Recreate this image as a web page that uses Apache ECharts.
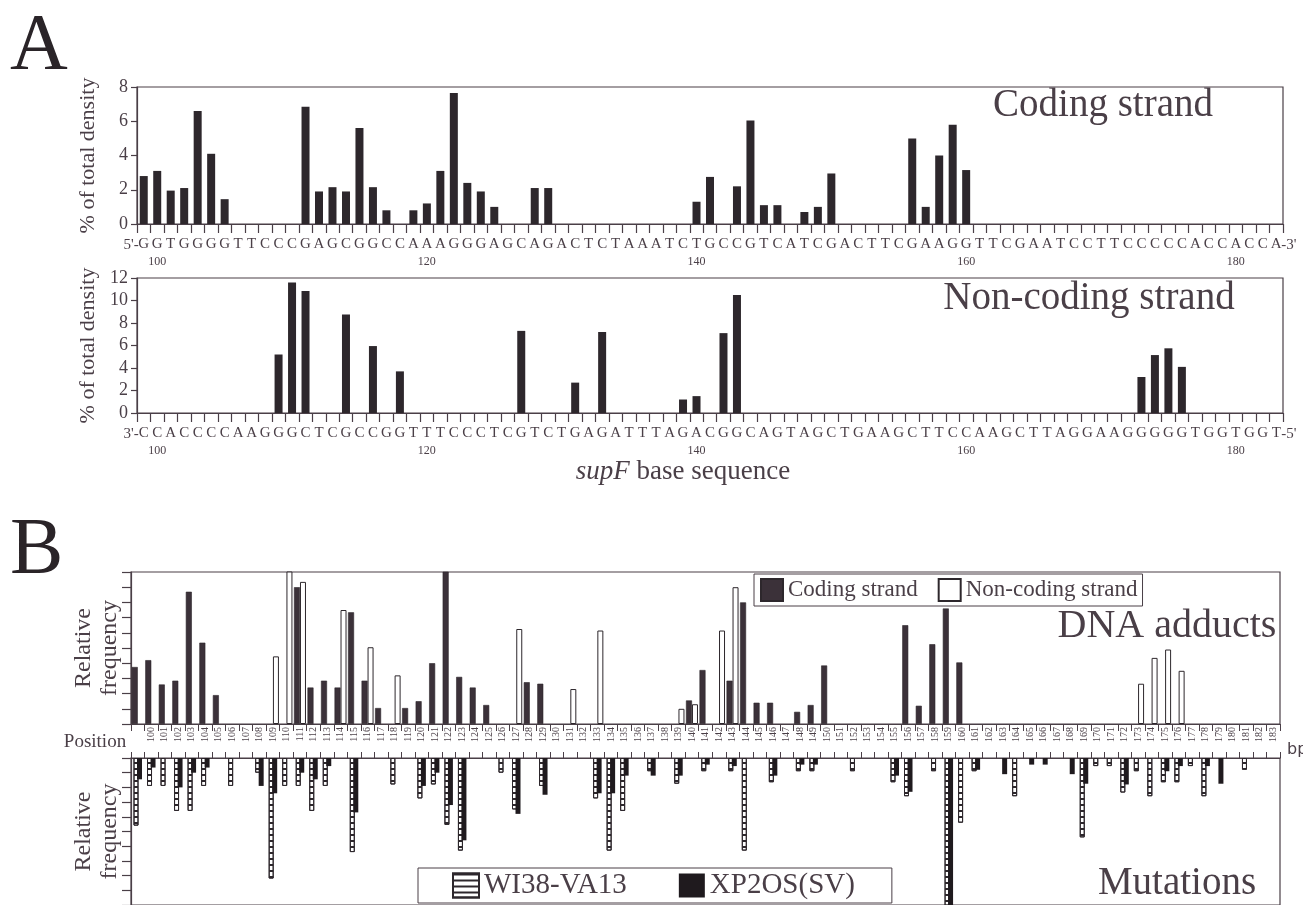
<!DOCTYPE html>
<html><head><meta charset="utf-8">
<script src="https://cdn.jsdelivr.net/npm/echarts/dist/echarts.min.js"></script>
<style>html,body{margin:0;padding:0;background:#fff}#c{width:1303px;height:905px}</style>
</head><body><div id="c"></div>
<script>
// ---------- DATA ----------
const positions = ['99','100','101','102','103','104','105','106','107','108','109','110','111','112','113','114','115','116','117','118','119','120','121','122','123','124','125','126','127','128','129','130','131','132','133','134','135','136','137','138','139','140','141','142','143','144','145','146','147','148','149','150','151','152','153','154','155','156','157','158','159','160','161','162','163','164','165','166','167','168','169','170','171','172','173','174','175','176','177','178','179','180','181','182','183'];
const codingSeq = 'GGTGGGGTTCCCGAGCGGCCAAAGGGAGCAGACTCTAAATCTGCCGTCATCGACTTCGAAGGTTCGAATCCTTCCCCCACCACCA'.split('');
const nonCodingSeq = 'CCACCCCAAGGGCTCGCCGGTTTCCCTCGTCTGAGATTTAGACGGCAGTAGCTGAAGCTTCCAAGCTTAGGAAGGGGGTGGTGGT'.split('');
const seqNumberTicks = ['100','120','140','160','180'];
const adductTickLabels = ['','100','101','102','103','104','105','106','107','108','109','110','111','112','113','114','115','116','117','118','119','120','121','122','123','124','125','126','127','128','129','130','131','132','133','134','135','136','137','138','139','140','141','142','143','144','145','146','147','148','149','150','151','152','153','154','155','156','157','158','159','160','161','162','163','164','165','166','167','168','169','170','171','172','173','174','175','176','177','178','179','180','181','182','183'];

// Panel A: % of total density
const codingDensity = [[99,2.8],[100,3.1],[101,1.95],[102,2.1],[103,6.6],[104,4.1],[105,1.45],[111,6.85],[112,1.9],[113,2.15],[114,1.9],[115,5.6],[116,2.15],[117,0.8],[119,0.8],[120,1.2],[121,3.1],[122,7.65],[123,2.4],[124,1.9],[125,1.0],[128,2.1],[129,2.1],[140,1.3],[141,2.75],[143,2.2],[144,6.05],[145,1.1],[146,1.1],[148,0.7],[149,1.0],[150,2.95],[156,5.0],[157,1.0],[158,4.0],[159,5.8],[160,3.15]];
const nonCodingDensity = [[109,5.2],[110,11.6],[111,10.85],[114,8.75],[116,5.95],[118,3.7],[127,7.3],[131,2.7],[133,7.2],[139,1.2],[140,1.5],[142,7.1],[143,10.5],[173,3.2],[174,5.15],[175,5.75],[176,4.1]];

// Panel B: DNA adducts (relative frequency)
const adductCoding = [[99,3.75],[100,4.2],[101,2.6],[102,2.85],[103,8.7],[104,5.35],[105,1.9],[111,9.0],[112,2.4],[113,2.85],[114,2.4],[115,7.35],[116,2.85],[117,1.05],[119,1.05],[120,1.5],[121,4.0],[122,10.8],[123,3.1],[124,2.4],[125,1.25],[128,2.75],[129,2.65],[140,1.55],[141,3.55],[143,2.85],[144,8.0],[145,1.4],[146,1.4],[148,0.8],[149,1.25],[150,3.85],[156,6.5],[157,1.2],[158,5.25],[159,7.6],[160,4.05]];
const adductNonCoding = [[109,4.45],[110,10.8],[111,9.35],[114,7.5],[116,5.05],[118,3.2],[127,6.25],[131,2.3],[133,6.15],[139,1.0],[140,1.3],[142,6.15],[143,9.0],[173,2.65],[174,4.35],[175,4.9],[176,3.5]];

// Panel B: Mutations (relative frequency)
const mutWI38 = [[99,4.6],[100,1.9],[101,1.9],[102,3.6],[103,3.6],[104,1.9],[106,1.9],[108,1.0],[109,8.2],[110,1.9],[111,1.9],[112,3.6],[113,1.9],[115,6.4],[118,1.8],[120,2.75],[121,1.8],[122,4.55],[123,6.3],[126,1.0],[127,3.5],[129,1.9],[133,2.75],[134,6.3],[135,3.6],[137,0.9],[139,1.75],[141,0.9],[143,0.9],[144,6.3],[146,1.65],[148,0.9],[149,0.9],[152,0.9],[155,1.65],[156,2.6],[158,0.9],[159,12],[160,4.4],[161,0.9],[164,2.6],[169,5.4],[170,0.55],[171,0.55],[172,2.35],[173,0.9],[174,2.6],[175,1.65],[176,1.65],[177,0.55],[178,2.6],[181,0.8]];
const mutXP2OS = [[99,1.45],[100,0.65],[102,2.0],[103,1.0],[104,0.65],[108,1.9],[109,2.4],[111,1.0],[112,1.45],[113,0.55],[115,3.7],[120,1.9],[121,1.0],[122,3.2],[123,5.6],[127,3.8],[129,2.5],[133,2.4],[134,2.4],[135,1.2],[137,1.2],[139,1.2],[141,0.45],[143,0.55],[146,1.2],[148,0.45],[149,0.45],[155,1.2],[156,2.3],[159,12],[161,0.8],[163,1.1],[165,0.45],[166,0.45],[168,1.1],[169,1.75],[172,1.8],[175,0.9],[176,0.55],[178,0.55],[179,1.75]];

// ---------- CHART ----------
const serif = "'Liberation Serif','Times New Roman',serif";
const ink = '#4a3f47';
const barInk = '#2d272c';
function fill(pairs){ const m = {}; pairs.forEach(p => { m[String(p[0])] = p[1]; }); return positions.map(p => (p in m) ? m[p] : '-'); }

const chart = echarts.init(document.getElementById('c'), null, {renderer:'canvas'});
const gridStyle = {show:true, borderColor:ink, borderWidth:1.2, backgroundColor:'transparent'};
const axisLine = {show:true, lineStyle:{color:ink, width:1.2}};

function seqAxis(gi, seq){
  return {gridIndex:gi, type:'category', data:positions, boundaryGap:true,
    axisLine:axisLine, axisTick:{show:true, length:9, interval:0, lineStyle:{color:ink, width:1.2}},
    axisLabel:{interval:0, margin:11,
      formatter:(v,i)=> '{a|'+seq[i]+'}\n{n|'+(seqNumberTicks.indexOf(v)>=0 ? v : ' ')+'}',
      rich:{a:{fontFamily:serif, fontSize:15, color:ink, lineHeight:19}, n:{fontFamily:serif, fontSize:12, color:ink, lineHeight:16}}},
    splitLine:{show:false}};
}
function densityY(gi, max){
  return {gridIndex:gi, type:'value', min:0, max:max, interval:2,
    axisLine:axisLine, axisTick:{show:true, length:6, lineStyle:{color:ink, width:1.2}},
    axisLabel:{fontFamily:serif, fontSize:18, color:ink, margin:9},
    splitLine:{show:false},
    name:'% of total density', nameLocation:'middle', nameRotate:90, nameGap:38,
    nameTextStyle:{fontFamily:serif, fontSize:22, color:ink}};
}
function relY(gi, inverse){
  return {gridIndex:gi, type:'value', min:0, max:10, interval:1, inverse:inverse,
    axisLine:axisLine, axisTick:{show:true, length:9, lineStyle:{color:ink, width:1.2}},
    axisLabel:{show:false}, splitLine:{show:false},
    name:'Relative\nfrequency', nameLocation:'middle', nameRotate:90, nameGap:8,
    nameTextStyle:{fontFamily:serif, fontSize:24, color:ink, lineHeight:26}};
}

const option = {
  animation:false,
  backgroundColor:'#fff',
  grid:[
    Object.assign({left:137, right:20, top:87, height:137}, gridStyle),
    Object.assign({left:137, right:20, top:278, height:135}, gridStyle),
    Object.assign({left:131, right:23, top:572, height:152}, gridStyle),
    Object.assign({left:131, right:23, top:758, height:152}, gridStyle)
  ],
  xAxis:[
    seqAxis(0, codingSeq),
    seqAxis(1, nonCodingSeq),
    {gridIndex:2, type:'category', data:positions, axisLine:axisLine,
     axisTick:{show:true, length:7, interval:0, lineStyle:{color:ink, width:1}},
     axisLabel:{interval:0, rotate:90, margin:3, fontFamily:serif, fontSize:10, color:ink,
       formatter:(v,i)=>adductTickLabels[i]}, splitLine:{show:false}},
    {gridIndex:3, type:'category', data:positions, position:'top', axisLine:axisLine,
     axisTick:{show:true, length:6, interval:0, lineStyle:{color:ink, width:1}},
     axisLabel:{show:false}, splitLine:{show:false}}
  ],
  yAxis:[ densityY(0, 8), densityY(1, 12), relY(2, false), relY(3, true) ],
  legend:[
    {data:['Coding strand','Non-coding strand'], left:754, top:574, orient:'horizontal',
     itemWidth:22, itemHeight:22, itemGap:20, padding:[4,5,4,6],
     borderColor:ink, borderWidth:1, backgroundColor:'#fff', icon:'rect', selectedMode:false,
     textStyle:{fontFamily:serif, fontSize:23, color:ink}},
    {data:['WI38-VA13','XP2OS(SV)'], left:418, top:868, orient:'horizontal',
     itemWidth:26, itemHeight:24, itemGap:52, padding:[3,37,3,34],
     borderColor:ink, borderWidth:1, backgroundColor:'#fff', icon:'rect', selectedMode:false,
     textStyle:{fontFamily:serif, fontSize:29, color:ink}}
  ],
  series:[
    {name:'Coding density', type:'bar', xAxisIndex:0, yAxisIndex:0, barWidth:8, data:fill(codingDensity), itemStyle:{color:barInk}},
    {name:'Non-coding density', type:'bar', xAxisIndex:1, yAxisIndex:1, barWidth:8, data:fill(nonCodingDensity), itemStyle:{color:barInk}},
    {name:'Coding strand', type:'bar', xAxisIndex:2, yAxisIndex:2, barWidth:6, data:fill(adductCoding),
     itemStyle:{color:'#3b3139', borderColor:barInk, borderWidth:0.6}},
    {name:'Non-coding strand', type:'bar', xAxisIndex:2, yAxisIndex:2, barWidth:6, barGap:'0%', data:fill(adductNonCoding),
     itemStyle:{color:'#fff', borderColor:barInk, borderWidth:1}},
    {name:'WI38-VA13', type:'bar', xAxisIndex:3, yAxisIndex:3, barWidth:5, data:fill(mutWI38),
     itemStyle:{color:'#fff', borderColor:barInk, borderWidth:1,
       decal:{symbol:'rect', symbolSize:1, dashArrayX:[1,0], dashArrayY:[1.2,3.3], color:barInk, rotation:0}}},
    {name:'XP2OS(SV)', type:'bar', xAxisIndex:3, yAxisIndex:3, barWidth:5, barGap:'-30%', data:fill(mutXP2OS),
     itemStyle:{color:'#1f1a1e'}}
  ],
  graphic:[
    {type:'text', left:10, top:8, style:{text:'A', font:"80px 'Liberation Serif'", fill:'#2a2428'}},
    {type:'text', left:10, top:512, style:{text:'B', font:"80px 'Liberation Serif'", fill:'#2a2428'}},
    {type:'text', x:1103, y:106, style:{text:'Coding strand', font:"39px 'Liberation Serif'", fill:ink, textAlign:'center', textVerticalAlign:'middle'}},
    {type:'text', x:1089, y:299, style:{text:'Non-coding strand', font:"39px 'Liberation Serif'", fill:ink, textAlign:'center', textVerticalAlign:'middle'}},
    {type:'text', x:1167, y:626, style:{text:'DNA adducts', font:"40px 'Liberation Serif'", fill:ink, textAlign:'center', textVerticalAlign:'middle'}},
    {type:'text', x:1177, y:884, style:{text:'Mutations', font:"39px 'Liberation Serif'", fill:ink, textAlign:'center', textVerticalAlign:'middle'}},
    {type:'text', x:683, y:472, style:{rich:{i:{fontFamily:serif, fontStyle:'italic', fontSize:27, fill:ink}, r:{fontFamily:serif, fontSize:27, fill:ink}},
      text:'{i|supF}{r| base sequence}', textAlign:'center', textVerticalAlign:'middle'}},
    {type:'text', x:95, y:742, style:{text:'Position', font:"19px 'Liberation Serif'", fill:ink, textAlign:'center', textVerticalAlign:'middle'}},
    {type:'text', x:1287, y:750, style:{text:'bp', font:"16px 'DejaVu Sans'", fill:ink, textAlign:'left', textVerticalAlign:'middle'}}
  ]
};
chart.setOption(option);

// strand end markers, placed through the library's own axis scales
const x0 = chart.convertToPixel({xAxisIndex:0}, positions[0]);
const xN = chart.convertToPixel({xAxisIndex:0}, positions[positions.length-1]);
const yA = chart.convertToPixel({yAxisIndex:0}, 0) + 21;
const yB = chart.convertToPixel({yAxisIndex:1}, 0) + 21;
const endStyle = (t, x, y, al) => ({type:'text', x:x, y:y, style:{text:t, font:"15px 'Liberation Serif'", fill:ink, textAlign:al, textVerticalAlign:'middle'}});
option.graphic.push(endStyle("5'-", x0-5, yA, 'right'), endStyle("-3'", xN+5, yA, 'left'),
                    endStyle("3'-", x0-5, yB, 'right'), endStyle("-5'", xN+5, yB, 'left'));
chart.setOption({graphic: option.graphic});
</script>
</body></html>
